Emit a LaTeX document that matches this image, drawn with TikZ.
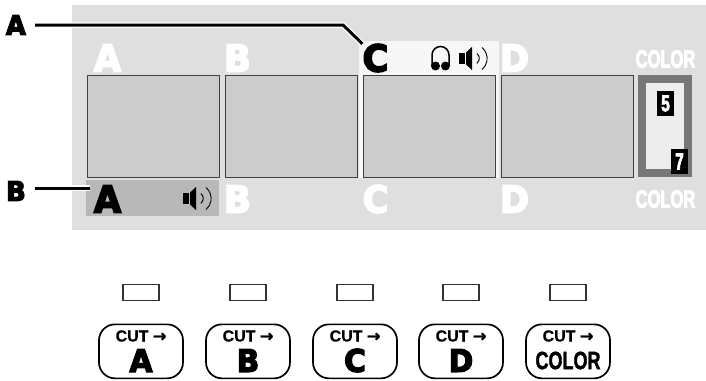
\documentclass[tikz,border=0pt]{standalone}
\usepackage{fontspec}
\setmainfont{Liberation Sans}
\newfontfamily\tagfont[FakeBold=4.5,FakeStretch=0.95]{DejaVu Sans Bold}
\newfontfamily\cutfont[FakeBold=0.6]{Liberation Sans Bold}
\newfontfamily\narrowfont[FakeStretch=0.66,FakeBold=3]{Liberation Sans Bold}
\newfontfamily\wordfont[FakeStretch=0.72,FakeBold=1.5]{Liberation Sans Bold}
\newfontfamily\arrowfont[FakeBold=2]{DejaVu Sans Bold}
\usetikzlibrary{calc,arrows.meta}

\definecolor{panelgray}{HTML}{DFDFDF}
\definecolor{screengray}{HTML}{CCCCCC}
\definecolor{framegray}{HTML}{777777}
\definecolor{activegray}{HTML}{B8B8B8}
\definecolor{cuedgray}{HTML}{F7F7F7}

\tikzset{
  screenbox/.style={draw=black!75,fill=screengray,line width=0.8pt,inner sep=0pt,
    minimum width=132pt,minimum height=102pt,anchor=north west},
  chantag/.style={inner sep=0pt,font=\tagfont\fontsize{37}{37}\selectfont},
  colortag/.style={inner sep=0pt,text=white,font=\narrowfont\fontsize{25}{25}\selectfont},
  digitbox/.style={fill=black,text=white,inner sep=0pt,minimum width=17pt,minimum height=25pt,
    font=\narrowfont\fontsize{23}{23}\selectfont},
  keytag/.style={inner sep=0pt,anchor=east,font=\tagfont\fontsize{27}{27}\selectfont},
  leaderline/.style={line width=3pt,shorten <=9pt,preaction={draw=white,line width=5.5pt}},
  ledbox/.style={draw=black!80,fill=white,line width=1.3pt,inner sep=0pt,
    minimum width=36pt,minimum height=16pt},
  cutbutton/.style={draw=black,fill=white,line width=1.7pt,rounded corners=16pt,inner sep=0pt,
    minimum width=84pt,minimum height=54pt,anchor=north},
  cutword/.style={inner sep=0pt,font=\cutfont\fontsize{16}{16}\selectfont},
  buttontag/.style={inner sep=0pt,font=\tagfont\fontsize{31}{31}\selectfont},
  buttonword/.style={inner sep=0pt,font=\wordfont\fontsize{25}{25}\selectfont}
}

% icons, #1 = left end, #2 = middle height
\newcommand{\speakericon}[2]{
  \begin{scope}[shift={(#1,#2)}]
    \fill (0,-5.5) rectangle (6,5.5);
    \fill (7,-6) -- (13,-11.5) -- (13,11.5) -- (7,6) -- cycle;
    \draw[line width=1pt] (18,-5) arc (-50:50:6.5);
    \draw[line width=0.9pt] (23,-11) arc (-50:50:14.4);
  \end{scope}
}
\newcommand{\phonesicon}[2]{
  \begin{scope}[shift={(#1,#2)}]
    \draw[line width=1.5pt] (1,8) -- (1,-3) arc (180:360:8.5) -- (18,8);
    \fill (4.5,8) circle (4.5);
    \fill (14.5,8) circle (4.5);
  \end{scope}
}

\begin{document}
\begin{tikzpicture}[x=1pt,y=-1pt]
  \useasboundingbox (0,0) rectangle (706,380);

  % Panel
  \fill[panelgray] (72,5) rectangle (706,230);
  \fill[cuedgray] (359,41) rectangle (499,178);
  \node[fill=activegray,inner sep=0pt,minimum width=133pt,minimum height=36pt,anchor=north west]
    (activea) at (86,180) {};

  % Screens
  \foreach \name/\x in {a/86.5,b/224.5,c/362.5,d/500.5}
    \node[screenbox] (screen\name) at (\x,74.5) {};

  % Color frame
  \draw[framegray,fill=black!7,line width=8pt] (642,78.5) rectangle (688,173);
  \node[digitbox] (digitfive) at (665.5,103.5) {5};
  \node[digitbox] (digitseven) at (679.5,161.5) {7};

  % Letters over the screens
  \node[chantag,text=white] (topa) at (107.5,58) {A};
  \node[chantag,text=white] (topb) at (237.5,58) {B};
  \node[chantag,text=black] (topc) at (375.5,58) {C};
  \node[chantag,text=white] (topd) at (514.5,58) {D};
  \node[colortag] (topcolor) at (665.5,59) {COLOR};

  % Letters under the screens
  \node[chantag,text=black] (bota) at (107.5,199) {A};
  \node[chantag,text=white] (botb) at (237.5,199) {B};
  \node[chantag,text=white] (botc) at (375.5,199) {C};
  \node[chantag,text=white] (botd) at (514.5,199) {D};
  \node[colortag] (botcolor) at (665.5,199) {COLOR};

  % Icons
  \speakericon{183}{198.5}
  \phonesicon{431}{58}
  \speakericon{459}{58.5}

  % Callouts
  \node[keytag] (keya) at (26,25) {A};
  \node[keytag] (keyb) at (26,191) {B};
  \coordinate (bendc) at (343,25);
  \draw[leaderline] (keya.east) -- (bendc) -- (topc.north west);
  \draw[leaderline,shorten >=-4pt] ([yshift=3pt]keyb.east) -- ([yshift=3pt]keyb.east -| activea.west);

  % LEDs and buttons
  \foreach \name/\x in {a/141,b/248,c/355,d/461,color/568} {
    \node[ledbox] (led\name) at (\x,292.5) {};
    \node[cutbutton] (button\name) at (\x,323.5) {};
    \node[cutword] (cut\name) at (\x,336) {CUT {\arrowfont\fontsize{16}{16}\selectfont→}};
  }
  \node[buttontag] at (buttona |- 0,360.5) (taga) {A};
  \node[buttontag] at (buttonb |- 0,360.5) (tagb) {B};
  \node[buttontag] at (buttonc |- 0,360.5) (tagc) {C};
  \node[buttontag] at (buttond |- 0,360.5) (tagd) {D};
  \node[buttonword] at (buttoncolor |- 0,360.5) (tagcolor) {COLOR};
\end{tikzpicture}
\end{document}
